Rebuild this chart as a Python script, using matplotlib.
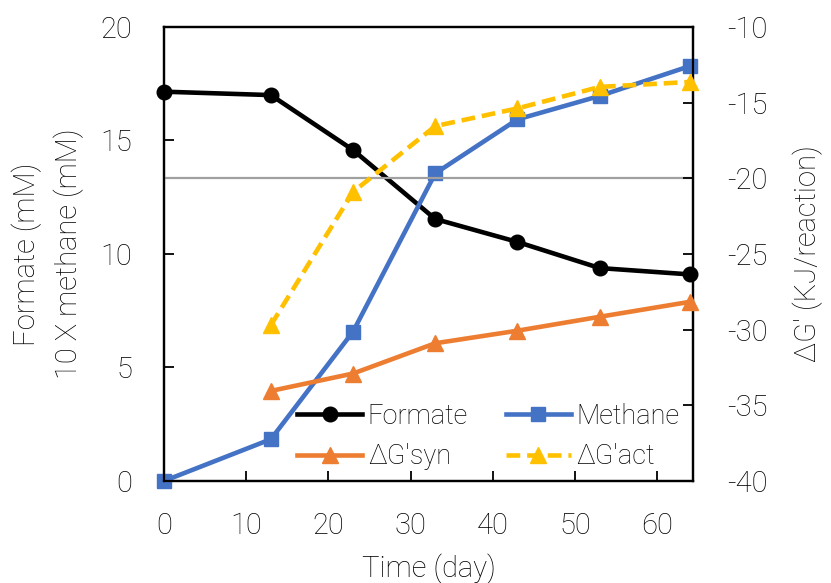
import matplotlib
matplotlib.use("Agg")
import matplotlib.pyplot as plt

plt.rcParams['font.family'] = ['Roboto', 'DejaVu Sans']
plt.rcParams['font.weight'] = 'light'
plt.rcParams['axes.labelweight'] = 'light'
plt.rcParams['axes.unicode_minus'] = False

days = [0, 13, 23, 33, 43, 53, 64]
formate = [17.15, 17.0, 14.58, 11.54, 10.53, 9.38, 9.1]
methane = [0.0, 1.84, 6.58, 13.55, 15.93, 16.96, 18.28]
days_dg = [13, 23, 33, 43, 53, 64]
dg_syn = [-34.05, -32.9, -30.9, -30.07, -29.15, -28.16]
dg_act = [-29.7, -20.9, -16.55, -15.38, -13.96, -13.63]
ref_line = -20

x_ticks = [0, 10, 20, 30, 40, 50, 60]
left_ticks = [0, 5, 10, 15, 20]
right_ticks = [-40, -35, -30, -25, -20, -15, -10]

c_black = '#000000'
c_blue = '#4472C4'
c_orange = '#ED7D31'
c_yellow = '#FFC000'
c_gray = '#A0A0A0'

fig = plt.figure(figsize=(8.31, 5.83), dpi=100)
ax = fig.add_axes([0.1974, 0.175, 0.6369, 0.7787])
ax2 = ax.twinx()

ax2.axhline(ref_line, color=c_gray, lw=1.6, zorder=1)

l1, = ax.plot(days, formate, color=c_black, lw=3.3, marker='o', ms=10.5, label='Formate', zorder=3)
l2, = ax.plot(days, methane, color=c_blue, lw=3.3, marker='s', ms=10, label='Methane', zorder=3)
l3, = ax2.plot(days_dg, dg_syn, color=c_orange, lw=3.3, marker='^', ms=11, label="\u0394G'syn", zorder=3)
l4, = ax2.plot(days_dg, dg_act, color=c_yellow, lw=3.3, marker='^', ms=11, dashes=(3, 1.5), label="\u0394G'act", zorder=3)

ax.set_xlim(0, 64.4)
ax.set_ylim(0, 20)
ax2.set_ylim(-40, -10)
ax.set_xticks(x_ticks)
ax.set_yticks(left_ticks)
ax2.set_yticks(right_ticks)

for a in (ax, ax2):
    a.tick_params(direction='in', length=7, width=1.3, labelsize=21, colors='black', pad=23)
    for s in a.spines.values():
        s.set_linewidth(1.6)
        s.set_color('black')
ax.tick_params(axis='x', pad=22)
ax2.tick_params(axis='y', pad=24)

for ln in (l1, l2, l3, l4):
    ln.set_clip_on(False)

ax.set_xlabel('Time (day)', fontsize=21, labelpad=10, fontweight='light')
ax.set_ylabel('Formate (mM)\n10 X methane (mM)', fontsize=21, labelpad=12, linespacing=1.5, fontweight='light')
ax2.set_ylabel("\u0394G' (KJ/reaction)", fontsize=21, labelpad=18, fontweight='light')

leg = ax2.legend(handles=[l1, l3, l2, l4], ncol=2, loc='lower right',
                 bbox_to_anchor=(1.02, -0.03), frameon=False, fontsize=19.5,
                 handlelength=2.4, columnspacing=1.4, handletextpad=0.2,
                 labelspacing=0.5)

fig.savefig('out.png', dpi=100)
